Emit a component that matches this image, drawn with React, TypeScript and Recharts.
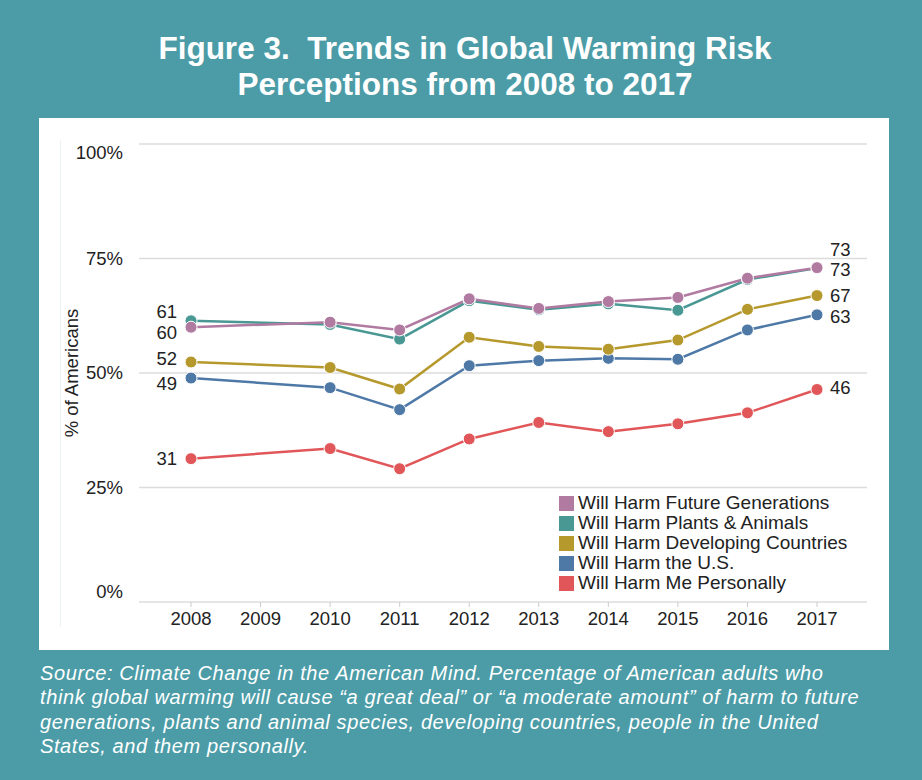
import React from "react";
import { LineChart, Line, XAxis, YAxis, CartesianGrid, LabelList, Label } from "recharts";

const years = [2008, 2010, 2011, 2012, 2013, 2014, 2015, 2016, 2017];
const xTicks = [2008, 2009, 2010, 2011, 2012, 2013, 2014, 2015, 2016, 2017];
const yTicks = [0, 25, 50, 75, 100];

const futureGenerations = [60, 61.1, 59.4, 66.2, 64.1, 65.6, 66.5, 70.7, 73.0];
const plantsAnimals = [61.4, 60.6, 57.4, 65.8, 63.8, 65.1, 63.7, 70.4, 72.9];
const developingCountries = [52.4, 51.2, 46.5, 57.8, 55.8, 55.2, 57.2, 63.9, 66.9];
const unitedStates = [48.9, 46.8, 42.0, 51.6, 52.7, 53.2, 53.0, 59.4, 62.7];
const mePersonally = [31.3, 33.5, 29.1, 35.6, 39.2, 37.2, 38.9, 41.3, 46.4];

const seriesNames = [
  "Will Harm Future Generations",
  "Will Harm Plants & Animals",
  "Will Harm Developing Countries",
  "Will Harm the U.S.",
  "Will Harm Me Personally",
];

const data = years.map((year, i) => ({
  year,
  future: futureGenerations[i],
  plants: plantsAnimals[i],
  developing: developingCountries[i],
  us: unitedStates[i],
  personal: mePersonally[i],
}));

const FONT = "'Liberation Sans', Arial, Helvetica, sans-serif";

type SeriesCfg = { key: string; name: string; color: string; dyStart: number; dyEnd: number };
// draw order: bottom first
const series: SeriesCfg[] = [
  { key: "personal", name: seriesNames[4], color: "#e15759", dyStart: 0, dyEnd: -2 },
  { key: "us", name: seriesNames[3], color: "#4e79a7", dyStart: 5, dyEnd: 2 },
  { key: "developing", name: seriesNames[2], color: "#b6992d", dyStart: -3, dyEnd: 0 },
  { key: "plants", name: seriesNames[1], color: "#499894", dyStart: -9, dyEnd: -19 },
  { key: "future", name: seriesNames[0], color: "#b07aa1", dyStart: 5, dyEnd: 2 },
];

const legendOrder = ["future", "plants", "developing", "us", "personal"];

const makeEndLabel = (dyStart: number, dyEnd: number, last: number) => (props: any) => {
  const { x, y, value, index } = props;
  if (index !== 0 && index !== last) return null;
  const isStart = index === 0;
  return (
    <text
      x={isStart ? x - 14 : x + 13}
      y={y + (isStart ? dyStart : dyEnd)}
      dy="0.35em"
      textAnchor={isStart ? "end" : "start"}
      fontSize={18.5}
      fontFamily={FONT}
      fill="#222"
    >
      {Math.round(value)}
    </text>
  );
};

const YTick = (props: any) => {
  const { x, y, payload } = props;
  let dy = 0;
  if (payload.value === 0) dy = -10;
  if (payload.value === 100) dy = 9;
  return (
    <text x={x - 8} y={y + dy} dy="0.35em" textAnchor="end" fontSize={18.5} fontFamily={FONT} fill="#222">
      {payload.value}%
    </text>
  );
};

const LegendBox = () => (
  <div style={{ position: "absolute", left: 520, top: 375, fontFamily: FONT, fontSize: 19, color: "#222" }}>
    {legendOrder.map((k) => {
      const s = series.find((d) => d.key === k)!;
      return (
        <div key={k} style={{ display: "flex", alignItems: "center", height: 20, whiteSpace: "nowrap" }}>
          <span style={{ display: "inline-block", width: 15, height: 15, background: s.color, marginRight: 4 }} />
          <span>{s.name}</span>
        </div>
      );
    })}
  </div>
);

export default function App() {
  return (
    <div
      style={{
        position: "fixed",
        left: 0,
        top: 0,
        width: 922,
        height: 780,
        background: "#4b9ca7",
        fontFamily: FONT,
        overflow: "hidden",
      }}
    >
      <div
        style={{
          position: "absolute",
          left: 40,
          width: 850,
          top: 30,
          textAlign: "center",
          color: "#fff",
          fontWeight: "bold",
          fontSize: 31.5,
          lineHeight: "36px",
        }}
      >
        Figure 3.&nbsp; Trends in Global Warming Risk
        <br />
        Perceptions from 2008 to 2017
      </div>

      <div style={{ position: "absolute", left: 39, top: 118, width: 850, height: 532, background: "#fff" }}>
        <div style={{ position: "absolute", left: 21, top: 22, width: 1, height: 487, background: "#eaf4f5" }} />
        <LineChart width={850} height={532} data={data} margin={{ top: 26, right: 22, left: 0, bottom: 0 }}>
          <CartesianGrid vertical={false} stroke="#dcdcdc" strokeWidth={1.5} />
          <XAxis
            dataKey="year"
            type="number"
            domain={[2008, 2017]}
            ticks={xTicks}
            padding={{ left: 52, right: 50 }}
            height={48}
            axisLine={false}
            tickLine={{ stroke: "#cccccc" }}
            tickSize={5}
            tickMargin={5}
            tick={{ fontSize: 18.5, fontFamily: FONT, fill: "#222" }}
            interval={0}
          />
          <YAxis
            type="number"
            domain={[0, 100]}
            ticks={yTicks}
            width={100}
            axisLine={false}
            tickLine={false}
            tick={<YTick />}
            interval={0}
          >
            <Label
              content={() => (
                <text
                  x={33}
                  y={255}
                  transform="rotate(-90 33 255)"
                  textAnchor="middle"
                  dy="0.35em"
                  fontSize={18.5}
                  fontFamily={FONT}
                  fill="#222"
                >
                  % of Americans
                </text>
              )}
            />
          </YAxis>
          {series.map((s) => (
            <Line
              key={s.key}
              type="linear"
              dataKey={s.key}
              name={s.name}
              stroke={s.color}
              strokeWidth={2.5}
              dot={{ r: 6, fill: s.color, stroke: "#fff", strokeWidth: 1 }}
              activeDot={false}
              isAnimationActive={false}
            >
              <LabelList dataKey={s.key} content={makeEndLabel(s.dyStart, s.dyEnd, years.length - 1)} />
            </Line>
          ))}
        </LineChart>
        <LegendBox />
      </div>

      <div
        style={{
          position: "absolute",
          left: 40,
          top: 661,
          color: "#fff",
          fontStyle: "italic",
          fontSize: 20,
          letterSpacing: 0.6,
          lineHeight: "24.4px",
          whiteSpace: "nowrap",
        }}
      >
        Source: Climate Change in the American Mind. Percentage of American adults who
        <br />
        think global warming will cause “a great deal” or “a moderate amount” of harm to future
        <br />
        generations, plants and animal species, developing countries, people in the United
        <br />
        States, and them personally.
      </div>
    </div>
  );
}
